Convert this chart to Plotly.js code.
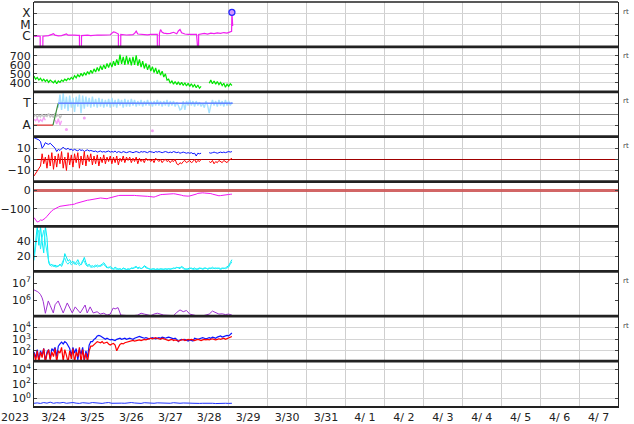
<!DOCTYPE html>
<html><head><meta charset="utf-8">
<script src="https://cdn.plot.ly/plotly-3.0.1.min.js"></script>
<style>html,body{margin:0;padding:0;background:#fff}#chart{width:634px;height:424px}</style>
</head><body><div id="chart"></div>
<script>
// ---------- x axis (hours since 2023-03-24 00:00) ----------
const dayLabelHours = [12,36,60,84,108,132,156,180,204,228,252,276,300,324,348];
const dayLabels = ['3/24','3/25','3/26','3/27','3/28','3/29','3/30','3/31','4/ 1','4/ 2','4/ 3','4/ 4','4/ 5','4/ 6','4/ 7'];
const dayBoundaryHours = [0,24,48,72,96,120,144,168,192,216,240,264,288,312,336,360];
const yearLabel = '2023';

// ---------- panel 1: X-ray flux (units of 1e-6 W/m2, C-class) ----------
const xrayHours = [0,1,2,3,3.8,3.9,5.4,5.5,7,9, 11,12,13,15,17,19,20,21,23,25, 27,28,28.1,29.2,29.3,31,33,35,37,39,
  41,43,45,47,48,49,50,51,52,52.1, 53.4,53.5,55,57,59,61,62,63,64,66, 68,70,72,74,76,76.1,77.2,77.3,78,79,
  80,82,84,86,88,89,90,91,93,95, 97,99,100.2,100.3,101.4,101.5,103,105,107,109, 111,113,115,117,119,120,121,121.8,122,122.5];
const xrayFlux = [0.9,0.85,0.95,0.9,0.9,0.01,0.01,0.9,0.95,1.0, 1.3,1.5,1.1,0.95,1.0,1.2,1.4,1.1,1.15,1.1, 1.05,1.05,0.01,0.01,1.0,1.05,1.1,1.0,1.1,1.15,
  1.1,1.05,1.15,1.2,1.5,2.2,2.0,1.6,1.4,0.01, 0.01,1.3,1.2,1.15,1.2,1.25,1.6,2.5,1.4,1.3, 1.25,1.2,1.3,1.25,1.3,0.01,0.01,1.5,3.5,2.0,
  1.7,1.5,1.6,2.0,1.5,2.6,3.5,1.8,1.4,1.3, 1.4,1.3,1.3,0.01,0.01,1.3,1.5,1.6,1.4,1.7, 1.5,1.8,1.6,1.9,1.7,2.0,2.2,2.4,120,7.2];
const flareHours = [122];
const flareFlux = [120];
const xrayClassTicks = [1,10,100];
const xrayClassLabels = ['C','M','X'];

// ---------- panel 2: solar wind speed (km/s), hourly ----------
const windSpeed = [
  475,440,460,430,450,420,440,415,435,405,430,410,
  400,425,390,420,405,430,415,440,425,450,435,460,
  440,480,455,490,465,505,475,515,485,525,495,540,
  505,555,520,570,530,590,545,600,555,615,570,625,
  575,640,590,660,600,715,610,690,600,700,605,680,
  595,690,600,705,590,660,575,640,560,615,545,600,
  530,580,515,565,500,545,485,530,465,500,430,440,
  395,420,385,415,380,410,375,405,370,400,365,395,
  360,390,355,380,345,375,340,360,
  null,null,null,null,
  395,430,390,420,385,415,380,405,
  370,395,350,385,360,390,370];

// ---------- panel 3: IMF sector ----------
const sectorAwayHours = [0,11.7], sectorAwayVal = [-1,-1];
const sectorChangeHours = [11.7,14.9], sectorChangeVal = [-1,1];
const sectorTowardHours = [14.9,122.5], sectorTowardVal = [1,1];
const towardPoints = [ // hourly from h15
  0.6,1.8,0.4,1.9,0.5,1.6,0.3,1.7,0.6,1.5,0.2,1.6,
  0.7,1.8,0.1,1.7,0.5,1.6,0.7,1.5,0.6,1.6,0.7,1.4,
  0.6,1.5,0.7,1.4,0.6,1.3,0.7,1.4,0.6,1.5,0.7,1.3,
  0.6,1.4,0.8,1.3,0.6,1.4,0.7,1.3,0.7,1.4,0.8,1.3,
  0.7,1.2,0.8,1.3,0.7,1.2,0.8,1.3,0.8,1.2,0.7,1.2,
  0.8,1.3,0.8,1.2,0.7,1.2,0.8,1.3,0.7,1.2,0.8,1.2,
  0.7,1.1,0.8,0.4,0.5,1.2,0.4,1.2,0.8,1.3,0.8,1.2,
  0.7,1.2,0.8,1.1,0.7,1.0,0.6,1.2,0.8,0.1,0.8,1.3,
  0.8,1.2,0.7,1.3,0.8,1.2,0.7,1.3,0.8,1.2,0.8,1.1];
const unsurePoints = [-0.2,-0.05,-0.3,-0.1,-0.25,0.0,-0.3,-0.1,-0.2,0.05,-0.25,-0.1,-0.3,0.1,-0.2,0.0,-0.35,-0.1];
const awayHours = [0,1,2,3,4,5,6,7,7.5,13,14,15,16,17];
const awayPoints = [-0.45,-0.6,-0.4,-0.7,-0.5,-0.65,-0.3,-0.55,null,-0.5,-0.9,-0.4,-1.0,-0.6];
const awayDotHours = [20,31,73], awayDotVal = [-1.4,-0.35,-1.5];

// ---------- panel 4: IMF Bt / Bz (nT), hourly ----------
const imfBt = [
  19.5,19,18,17.5,16,10,12,15,14,13.5,14.5,13,
  12,10,7,9,8,10,11,9.5,9,10,8.5,9,
  8,9,8.5,7.5,9,8,8.5,7,8,8.5,7.5,8,
  7.5,7,7.5,6.5,7,7.5,6.5,7,6.5,7,7.5,6.5,
  7,6.5,7.5,6,7,6.5,6,7,6.5,6,6.5,7,
  6.5,6,6.5,7,6.5,6,7,6.5,7,6.5,6,7,
  7,6.5,6,7,6.5,7,6.5,6,6.5,7,6.5,6,
  6.5,6,7,6.5,6,6.5,5.5,6,6.5,6,5.5,6,
  5.5,6,5,5.5,3,5.5,5,5.5,
  null,null,null,null,
  6,5.5,6,6.5,6,5.5,6,6.5,
  6,6.5,6,6.5,7,6.5,7];
const imfBz = [
  -15,-13,-11,-9,-6,5,-4,2,-8,4,-6,6,
  -9,3,-7,5,-4,7,-8,2,-10,6,-5,4,
  -7,5,-3,6,-8,3,-5,7,-6,4,-2,5,
  -5,3,-4,4,-6,2,-3,4,-4,2,-2,3,
  -4,2,-3,3,-5,1,-2,3,-3,2,-1,2,
  -3,1,-2,2,-4,1,-2,0,-3,1,-1,0,
  -2,0,-3,1,-1,-2,0,-3,-1,0,-2,-1,
  -3,-1,-2,0,-4,-5,-3,-4,-2,-1,-3,-2,
  -1,-3,-2,0,-3,-1,-2,0,
  null,null,null,null,
  -2,-3,-1,-4,-2,-3,-1,-2,
  -3,-1,-2,-3,-1,0,1];

// ---------- panel 5: Dst (nT), hourly ----------
const dst = [
  -147,-160,-171,-168,-160,-162,-158,-150,-140,-128,-116,-110,
  -104,-98,-95,-90,-86,-84,-82,-80,-79,-78,-78,-77,
  -77,-74,-70,-67,-64,-62,-60,-57,-55,-53,-52,-50,
  -50,-49,-47,-44,-42,-41,-42,-44,-46,-45,-42,-39,
  -37,-36,-33,-30,-28,-27,-27,-26,-25,-24,-23,-23,
  -24,-26,-27,-28,-28,-29,-30,-31,-31,-32,-32,-33,
  -35,-37,-36,-33,-29,-25,-23,-22,-21,-20,-19,-18,
  -18,-18,-18,-19,-20,-22,-23,-26,-29,-31,-32,-31,
  -30,-28,-27,-24,-20,-16,-14,-13,-13,-14,-14,-14,
  -15,-17,-20,-23,-26,-28,-29,-28,-26,-25,-24,-23,
  -22,-21,-20];

// ---------- panel 6: two cyan series, hourly ----------
const cyanA = [
  20,45,60,35,60,40,25,60,45,12,8,10,
  7,9,6,8,10,7,12,24,20,14,16,12,
  14,10,12,16,11,9,13,19,12,8,10,7,
  8,6,7,9,7,8,10,12,8,6,5,7,
  5,4,6,4,3,4,3,5,4,3,4,3,
  5,4,6,7,5,6,4,5,8,6,5,4,
  3,4,3,3,4,3,4,3,3,4,3,4,
  3,4,5,4,6,5,4,7,5,4,3,4,
  5,4,4,5,3,4,5,4,4,5,4,4,
  5,4,6,4,5,4,5,4,5,4,5,6,
  8,12,16];
const cyanB = [
  15,30,50,55,30,45,55,38,25,15,9,7,
  9,6,8,7,9,10,15,18,12,10,13,9,
  11,13,9,12,8,10,15,14,9,7,8,6,
  6,8,9,6,8,7,9,10,7,5,6,5,
  4,3,4,3,4,3,3,4,3,3,3,4,
  4,5,5,6,4,5,4,6,7,5,4,3,
  3,3,4,3,3,4,3,3,4,3,3,3,
  4,3,4,5,5,6,5,6,4,3,4,3,
  4,5,3,4,4,3,4,5,3,4,5,3,
  4,5,4,5,4,5,4,3,4,5,4,5,
  6,10,13];

// ---------- panel 7: purple flux ----------
const purpleHours = [0,1,2,3,4,5,5.7,7,8.8,10, 11.9,13,14.9,16.5,18,20.5,22,23.6,25.4,27,
  28.5,31.5,32.8,34.6,36.5,38.9,40.8,43,45,47, 48.8,50,51.8,53.5,56,60,64,66,68,72,
  74,76,80,86,88,90,92,94,96,100, 104,108,110,112,114,116,118,120,122];
const purpleFlux = [4.07e6,3.8e6,3.31e6,2.82e6,2.19e6,1.41e6,8.5e5,1.78e5,9.3e5,5.0e5,
  1.86e5,5.6e5,9.3e5,4.0e5,1.86e5,7.1e5,4.0e5,1.86e5,4.2e5,2.8e5,
  1.86e5,5.4e5,1.86e5,4.2e5,1.86e5,2.2e5,1.6e5,1.8e5,1.4e5,1.6e5,
  3.6e5,3.2e5,3.8e5,1.4e5,1.3e5,1.26e5,1.4e5,1.8e5,1.6e5,1.3e5,
  1.6e5,1.8e5,1.4e5,1.3e5,2.0e5,2.8e5,2.2e5,2.6e5,1.6e5,1.3e5,
  1.26e5,1.6e5,2.4e5,2.0e5,1.6e5,1.66e5,1.5e5,1.6e5,1.4e5];
const purpleThresholds = [1e7, 1e6];

// ---------- panel 8: blue / red flux (log10 values), hourly ----------
const fluxBlueLog = [
  1.9,1.4,2.1,1.2,2.0,1.6,2.2,1.1,1.9,2.1,1.3,2.2,
  2.0,2.3,1.5,2.4,2.6,2.75,2.6,2.8,2.7,2.5,2.2,1.6,
  2.3,1.8,2.2,1.2,2.1,1.7,2.3,1.1,2.0,1.4,2.5,2.8,
  2.8,3.0,3.1,3.3,3.35,3.3,3.2,3.1,3.0,3.1,3.05,2.95,
  3.0,2.95,2.9,3.0,3.05,3.1,3.0,3.05,3.1,3.0,3.05,3.1,
  3.05,3.0,3.1,3.15,3.2,3.25,3.2,3.15,3.1,3.15,3.1,3.05,
  3.1,3.15,3.1,3.05,3.1,3.15,3.1,3.2,3.15,3.1,3.15,3.2,
  3.15,3.1,3.05,3.1,3.0,2.8,2.95,3.0,2.95,3.0,2.9,2.85,
  2.95,2.9,2.85,3.1,3.05,3.0,3.05,3.1,3.15,3.1,3.05,3.1,
  3.15,3.1,3.2,3.15,3.1,3.2,3.25,3.3,3.2,3.25,3.3,3.35,
  3.3,3.45,3.55];
const fluxRedLog = [
  1.8,1.1,2.0,1.0,1.9,1.4,2.2,1.0,1.7,2.1,1.2,1.9,
  1.5,2.2,1.0,2.0,1.8,2.3,1.1,2.1,1.6,1.0,2.0,1.3,
  2.2,1.0,1.9,1.5,2.3,1.0,2.1,1.2,1.8,1.0,2.0,2.4,
  2.4,2.55,2.7,2.8,2.75,2.7,2.8,2.65,2.7,2.75,2.6,2.5,
  2.6,2.65,2.5,2.0,2.3,2.55,2.65,2.6,2.7,2.75,2.8,2.8,
  2.85,2.9,2.85,2.9,2.95,2.95,2.9,2.95,3.0,2.95,3.0,3.05,
  3.1,3.05,3.1,3.15,3.1,3.05,3.0,3.1,3.05,3.0,2.95,2.9,
  2.95,3.0,2.9,2.95,2.9,2.85,2.9,2.95,3.0,2.9,2.95,3.0,
  2.95,3.0,2.95,2.9,2.95,3.0,2.95,2.9,2.95,3.0,2.95,3.0,
  2.95,3.0,3.05,3.0,2.95,3.0,3.05,3.0,3.05,3.1,3.0,3.05,
  3.1,3.15,3.25];
const fluxThreshold = [1e4];

// ---------- panel 9: blue (log10 values), every 2 hours ----------
const lowFluxLog = [
  -0.7,-0.65,-0.72,-0.6,-0.68,-0.55,-0.7,-0.62,-0.66,-0.58,
  -0.7,-0.64,-0.6,-0.68,-0.72,-0.62,-0.66,-0.7,-0.6,-0.65,
  -0.68,-0.72,-0.64,-0.6,-0.7,-0.66,-0.62,-0.68,-0.7,-0.64,
  -0.6,-0.66,-0.7,-0.72,-0.62,-0.68,-0.66,-0.7,-0.64,-0.68,
  -0.72,-0.66,-0.7,-0.62,-0.68,-0.7,-0.66,-0.72,-0.68,-0.7,
  -0.66,-0.72,-0.7,-0.68,-0.72,-0.7,-0.74,-0.7,-0.72,-0.7,
  -0.72,-0.7];

const pow10 = a => a.map(v => v === null ? null : Math.pow(10, v));
const supLabel = e => '10<sup>' + e + '</sup>';

// ---------- traces ----------
const L = (w, c) => ({width: w, color: c});
const traces = [
  {x: xrayHours, y: xrayFlux, yaxis: 'y', mode: 'lines', line: L(1.2, 'rgb(240,30,240)')},
  {x: flareHours, y: flareFlux, yaxis: 'y', mode: 'markers',
   marker: {symbol: 'circle', size: 6, color: 'rgb(210,150,255)', line: {width: 1.3, color: 'rgb(40,40,255)'}}},

  {y: windSpeed, x0: 0, dx: 1, yaxis: 'y2', mode: 'lines', line: L(1.2, 'rgb(0,230,0)')},

  {y: towardPoints, x0: 15, dx: 1, yaxis: 'y3', mode: 'lines', line: L(1.4, 'rgb(165,225,255)')},
  {y: unsurePoints, x0: 0, dx: 1, yaxis: 'y3', mode: 'lines', line: L(1.4, 'rgb(195,195,195)')},
  {x: awayHours, y: awayPoints, yaxis: 'y3', mode: 'lines', line: L(1.4, 'rgb(245,160,245)')},
  {x: awayDotHours, y: awayDotVal, yaxis: 'y3', mode: 'markers', marker: {size: 3, color: 'rgb(245,160,245)'}},
  {x: sectorAwayHours, y: sectorAwayVal, yaxis: 'y3', mode: 'lines', line: L(1.2, 'rgb(225,50,50)')},
  {x: sectorChangeHours, y: sectorChangeVal, yaxis: 'y3', mode: 'lines', line: L(1.2, 'rgb(60,140,60)')},
  {x: sectorTowardHours, y: sectorTowardVal, yaxis: 'y3', mode: 'lines', line: L(1.5, 'rgb(100,130,255)')},

  {y: imfBt, x0: 0, dx: 1, yaxis: 'y4', mode: 'lines', line: L(1, 'rgb(10,20,255)')},
  {y: imfBz, x0: 0, dx: 1, yaxis: 'y4', mode: 'lines', line: L(1, 'rgb(255,0,0)')},

  {y: dst, x0: 0, dx: 1, yaxis: 'y5', mode: 'lines', line: L(1, 'rgb(240,20,240)')},

  {y: cyanA, x0: 0, dx: 1, yaxis: 'y6', mode: 'lines', line: L(1, 'rgb(0,235,245)')},
  {y: cyanB, x0: 0, dx: 1, yaxis: 'y6', mode: 'lines', line: L(1, 'rgb(40,240,250)')},

  {x: purpleHours, y: purpleFlux, yaxis: 'y7', mode: 'lines', line: L(1, 'rgb(160,50,210)')},

  {y: pow10(fluxBlueLog), x0: 0, dx: 1, yaxis: 'y8', mode: 'lines', line: L(1.2, 'rgb(10,20,255)')},
  {y: pow10(fluxRedLog), x0: 0, dx: 1, yaxis: 'y8', mode: 'lines', line: L(1.2, 'rgb(255,0,0)')},

  {y: pow10(lowFluxLog), x0: 0, dx: 2, yaxis: 'y9', mode: 'lines', line: L(1, 'rgb(30,50,255)')}
];
traces.forEach(t => { t.xaxis = 'x'; t.hoverinfo = 'skip'; t.showlegend = false; });

// ---------- layout ----------
const NP = 9;
const dom = i => [1 - (i + 1) / NP, 1 - i / NP];
const tf = {family: 'DejaVu Sans', size: 11, color: '#222'};
function yax(i, extra) {
  return Object.assign({
    domain: dom(i), anchor: 'x', showline: true, linecolor: '#222', linewidth: 1,
    mirror: 'ticks', ticks: 'inside', ticklen: 3, tickcolor: '#444',
    showgrid: true, gridcolor: '#d5d5d5', gridwidth: 1, zeroline: false,
    tickfont: tf, tickmode: 'array', fixedrange: true
  }, extra);
}

const layout = {
  width: 634, height: 424,
  margin: {l: 34, r: 16, t: 2, b: 18},
  paper_bgcolor: '#fff', plot_bgcolor: '#fff',
  showlegend: false, hovermode: false,
  xaxis: {
    range: [0, 360], anchor: 'y9', tickmode: 'array', tickvals: dayLabelHours, ticktext: dayLabels,
    ticks: '', showgrid: false, zeroline: false, showline: true, linecolor: '#222', linewidth: 2,
    tickfont: tf, fixedrange: true,
    minor: {tickmode: 'array', tickvals: dayBoundaryHours, showgrid: true, gridcolor: '#cfcfcf', gridwidth: 1, ticks: ''}
  },
  yaxis: yax(0, {type: 'log', range: [-1, 3], tickvals: xrayClassTicks, ticktext: xrayClassLabels,
                 tickfont: Object.assign({}, tf, {size: 12})}),
  yaxis2: yax(1, {range: [300, 800], tickvals: [400, 500, 600, 700]}),
  yaxis3: yax(2, {range: [-2.05, 2.05], tickvals: [1, -1], ticktext: ['T', 'A'],
                  zeroline: true, zerolinecolor: '#777', zerolinewidth: 1,
                  tickfont: Object.assign({}, tf, {size: 12})}),
  yaxis4: yax(3, {range: [-20, 20.4], tickvals: [10, 0, -10],
                  zeroline: true, zerolinecolor: '#a00000', zerolinewidth: 1.2}),
  yaxis5: yax(4, {range: [-195, 48], tickvals: [0, -100],
                  zeroline: true, zerolinecolor: 'rgba(205,85,85,0.9)', zerolinewidth: 2.5}),
  yaxis6: yax(5, {range: [0.5, 60], tickvals: [20, 40]}),
  yaxis7: yax(6, {type: 'log', range: [5.08, 7.69], tickvals: [1e7, 1e6], ticktext: [supLabel(7), supLabel(6)], showgrid: false}),
  yaxis8: yax(7, {type: 'log', range: [1.1, 5.02], tickvals: [1e4, 1e3, 1e2], ticktext: [supLabel(4), supLabel(3), supLabel(2)]}),
  yaxis9: yax(8, {type: 'log', range: [-1.08, 5.19], tickvals: [1e4, 1e2, 1], ticktext: [supLabel(4), supLabel(2), supLabel(0)]}),
  shapes: [],
  annotations: []
};

// threshold lines
purpleThresholds.forEach(v => layout.shapes.push({type: 'line', xref: 'paper', x0: 0, x1: 1, yref: 'y7',
  y0: Math.log10(v), y1: Math.log10(v), layer: 'between', line: {color: 'rgb(200,20,20)', width: 1.3}}));
fluxThreshold.forEach(v => layout.shapes.push({type: 'line', xref: 'paper', x0: 0, x1: 1, yref: 'y8',
  y0: Math.log10(v), y1: Math.log10(v), layer: 'between', line: {color: 'rgb(225,45,45)', width: 1.6, dash: '10px,5px'}}));

// panel separators
for (let k = 1; k < NP; k++) {
  layout.shapes.push({type: 'line', xref: 'paper', yref: 'paper', x0: 0, x1: 1, y0: k / NP, y1: k / NP,
    layer: 'above', line: {color: '#222', width: 2.8}});
}
layout.shapes.push({type: 'line', xref: 'paper', yref: 'paper', x0: 0, x1: 1, y0: 1, y1: 1,
  layer: 'above', line: {color: '#222', width: 1.5}});

// year label
layout.annotations.push({text: yearLabel, xref: 'paper', yref: 'paper', x: 0, y: 0, xanchor: 'right', yanchor: 'top',
  xshift: -3, yshift: -3, showarrow: false, font: tf});
// small "rt" tags
[0, 1, 2, 3, 6, 7].forEach(i => layout.annotations.push({text: 'rt', xref: 'paper', yref: 'paper', x: 1, y: 1 - i / NP,
  xanchor: 'left', yanchor: 'middle', xshift: 3, yshift: -9.5, showarrow: false,
  font: {family: 'DejaVu Sans', size: 7, color: '#444'}}));

Plotly.newPlot('chart', traces, layout, {staticPlot: true, displayModeBar: false});
</script></body></html>
